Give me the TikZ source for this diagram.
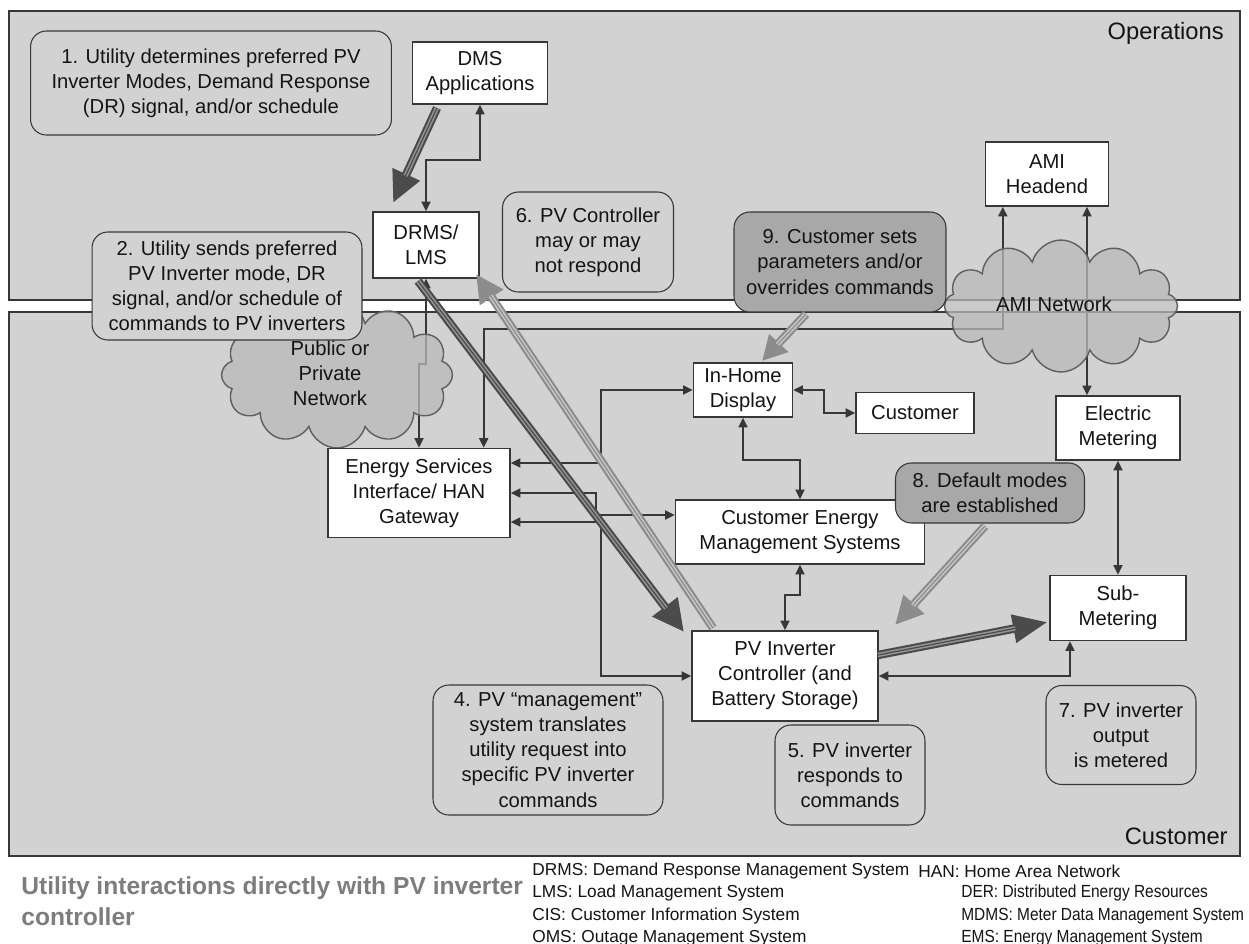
\documentclass[tikz,border=0pt]{standalone}
\usepackage{fontspec}
\setmainfont{Liberation Sans}
\newfontfamily\legfontb[FakeStretch=0.88]{Liberation Sans}
\usetikzlibrary{shapes.symbols,arrows.meta,calc}
\definecolor{panelgray}{RGB}{210,210,210}
\definecolor{darkfill}{RGB}{168,168,168}
\definecolor{linec}{RGB}{55,55,55}
\definecolor{txt}{RGB}{20,20,20}
\definecolor{capgray}{RGB}{125,125,125}
\definecolor{cloudfill}{RGB}{185,185,185}
\definecolor{cloudline}{RGB}{95,95,95}
\definecolor{darkarrow}{RGB}{75,75,75}
\definecolor{darkinner}{RGB}{150,150,150}
\definecolor{lightarrow}{RGB}{140,140,140}
\definecolor{lightinner}{RGB}{200,200,200}
\pgfdeclarelayer{bg}
\pgfdeclarelayer{mid}
\pgfsetlayers{bg,mid,main}
\newcommand{\fatarr}[6]{%
  \draw[line width=4.8pt, draw=#1, -{Triangle[length=#3,width=#4]}] (#5) -- (#6);
  \draw[line width=2.4pt, draw=#2, shorten >=#3-1pt] (#5) -- (#6);
  \draw[line width=0.7pt, draw=#1, shorten >=#3-1pt] (#5) -- (#6);}
\begin{document}
\begin{tikzpicture}[x=0.02cm,y=-0.02cm,
  every node/.style={font=\fontsize{11.5}{14.3}\selectfont, text=txt, inner sep=0pt, align=center},
  sysbox/.style={draw=linec, line width=0.8pt, fill=white, rectangle},
  callout/.style={draw=linec, line width=0.6pt, fill=panelgray, rounded corners=9pt},
  panel/.style={draw=linec, line width=0.9pt, fill=panelgray},
  conn/.style={draw=linec, line width=1.35pt, {Triangle[length=5.5pt,width=5pt]}-{Triangle[length=5.5pt,width=5pt]}},
  netcloud/.style={cloud, cloud puffs=12, cloud ignores aspect, draw=cloudline, line width=0.8pt, fill=cloudfill, fill opacity=0.75},
  lbl/.style={font=\fontsize{13.5}{16}\selectfont},
  leg/.style={font=\fontsize{9.85}{12}\selectfont, anchor=west},
  legb/.style={font=\fontsize{10}{12}\legfontb, anchor=west},
  captext/.style={font=\fontsize{14}{16}\selectfont\bfseries, text=capgray, anchor=west}]
\useasboundingbox (0,0) rectangle (1249,944);
\begin{pgfonlayer}{bg}
\fill[white] (0,0) rectangle (1249,944);
\draw[panel] (9,11) rectangle (1240,300);
\draw[panel] (9,312) rectangle (1240,856);
\end{pgfonlayer}
\node[lbl, anchor=east] (opslbl) at (1224,33) {Operations};
\node[lbl, anchor=east] (custlbl) at (1228,836) {Customer};
% system boxes
\node[sysbox, minimum width=2.7cm, minimum height=1.24cm] (dms) at (480,73) {DMS\\Applications};
\node[sysbox, minimum width=2.12cm, minimum height=1.32cm] (drms) at (426,245) {DRMS/\\LMS};
\node[sysbox, minimum width=2.46cm, minimum height=1.28cm] (ami) at (1047,174) {AMI\\Headend};
\node[sysbox, minimum width=1.98cm, minimum height=1.08cm] (ihd) at (743,390) {In-Home\\Display};
\node[sysbox, minimum width=2.36cm, minimum height=0.82cm] (cust) at (915,413) {Customer};
\node[sysbox, minimum width=2.48cm, minimum height=1.28cm] (elec) at (1118,428) {Electric\\Metering};
\node[sysbox, minimum width=3.64cm, minimum height=1.78cm] (esi) at (419,493) {Energy Services\\Interface/ HAN\\Gateway};
\node[sysbox, minimum width=4.98cm, minimum height=1.28cm] (cems) at (800,532) {Customer Energy\\Management Systems};
\node[sysbox, minimum width=2.72cm, minimum height=1.3cm] (sub) at (1118,608) {Sub-\\Metering};
\node[sysbox, minimum width=3.72cm, minimum height=1.8cm] (pv) at (785,676) {PV Inverter\\Controller (and\\Battery Storage)};
% thin connectors
\begin{pgfonlayer}{mid}
\draw[conn] (dms.south) -- ++(0,55) -| (drms.north);
\draw[conn] (drms.south) -- ++(0,85) -| (esi.north);
\draw[conn] ($(ami.south west)+(18,0)$) -- ++(0,122) -| ($(esi.north east)+(-27,0)$);
\draw[conn] ($(ami.south)+(40,0)$) coordinate (amir) -- (amir |- elec.north);
\draw[conn] (ihd.west) -- ++(-92,0) |- ($(esi.east)+(0,-30)$);
\draw[conn] (esi.east) -- ++(85,0) |- ($(cems.west)+(0,-17)$);
\draw[conn] ($(esi.east)+(0,29)$) -- ++(90,0) |- (pv.west);
\draw[conn] (ihd.east) -- ++(31,0) |- (cust.west);
\draw[conn] (ihd.south) -- ++(0,42) -| (cems.north);
\draw[conn] (cems.south) -- ++(0,30) -| (pv.north);
\draw[conn] (elec.south) -- (sub.north);
\draw[conn] (pv.east) -| ($(sub.south)+(-48,0)$);
% clouds
\node[netcloud, minimum width=4.62cm, minimum height=2.92cm] (pubnet) at (337,375) {};
\node[netcloud, minimum width=4.66cm, minimum height=2.64cm] (aminet) at (1061,306) {};
\end{pgfonlayer}
\node (pubtxt) at (330,373) {Public or\\Private\\Network};
\node (amitxt) at (1054,304) {AMI Network};
% callouts
\node[callout, minimum width=7.22cm, minimum height=2.08cm] (n1) at (211,83) {1. Utility determines preferred PV\\Inverter Modes, Demand Response\\(DR) signal, and/or schedule};
\node[callout, minimum width=3.42cm, minimum height=2.0cm] (n6) at (588,242) {6. PV Controller\\may or may\\not respond};
\node[callout, minimum width=5.4cm, minimum height=2.16cm] (n2) at (227,286) {2. Utility sends preferred\\PV Inverter mode, DR\\signal, and/or schedule of\\commands to PV inverters};
\node[callout, fill=darkfill, minimum width=4.24cm, minimum height=2.0cm] (n9) at (840,262) {9. Customer sets\\parameters and/or\\overrides commands};
\node[callout, fill=darkfill, minimum width=3.78cm, minimum height=1.2cm] (n8) at (990,493) {8. Default modes\\are established};
\node[callout, minimum width=4.6cm, minimum height=2.6cm] (n4) at (548,750) {4. PV “management”\\system translates\\utility request into\\specific PV inverter\\commands};
\node[callout, minimum width=3.0cm, minimum height=2.0cm] (n5) at (850,775) {5. PV inverter\\responds to\\commands};
\node[callout, minimum width=3.0cm, minimum height=1.98cm] (n7) at (1121,735) {7. PV inverter\\output\\is metered};
% big arrows
\coordinate (a1s) at (437,108); \coordinate (a1e) at (393,203);
\coordinate (a2s) at (418,281); \coordinate (a2e) at (684,632);
\coordinate (a3s) at (713,628); \coordinate (a3e) at (476,274);
\coordinate (a4s) at (878,655); \coordinate (a4e) at (1048,622);
\coordinate (a5s) at (806,314); \coordinate (a5e) at (762,361);
\coordinate (a6s) at (985,526); \coordinate (a6e) at (895,625);
\fatarr{darkarrow}{darkinner}{18pt}{16pt}{a1s}{a1e}
\fatarr{darkarrow}{darkinner}{18pt}{17pt}{a2s}{a2e}
\fatarr{lightarrow}{lightinner}{16pt}{15pt}{a3s}{a3e}
\fatarr{darkarrow}{darkinner}{20pt}{15pt}{a4s}{a4e}
\fatarr{lightarrow}{lightinner}{14pt}{14pt}{a5s}{a5e}
\fatarr{lightarrow}{lightinner}{16pt}{15pt}{a6s}{a6e}
% caption and legend
\node[captext] (cap1) at (21,888) {Utility interactions directly with PV inverter};
\node[captext] (cap2) at (21,917) {controller};
\node[leg] (l1) at (532,871) {DRMS: Demand Response Management System};
\node[leg] (l2) at (532,893) {LMS: Load Management System};
\node[leg] (l3) at (532,916) {CIS: Customer Information System};
\node[leg] (l4) at (532,938) {OMS: Outage Management System};
\node[leg] (r1) at (918,871) {HAN: Home Area Network};
\node[legb] (r2) at (961,893) {DER: Distributed Energy Resources};
\node[legb] (r3) at (961,916) {MDMS: Meter Data Management System};
\node[legb] (r4) at (961,938) {EMS: Energy Management System};
\end{tikzpicture}
\end{document}
